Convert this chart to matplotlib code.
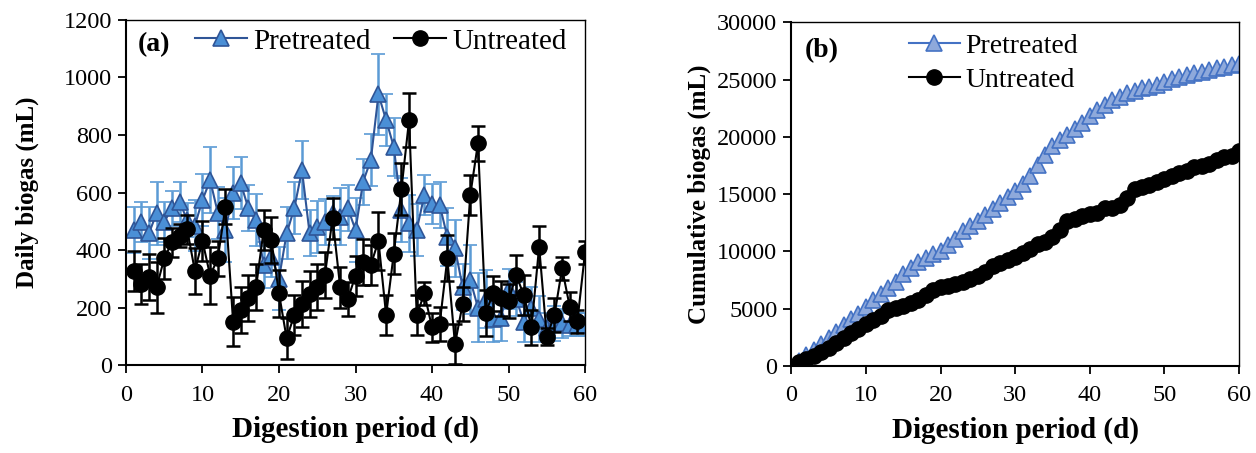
import numpy as np
import matplotlib
matplotlib.use("Agg")
import matplotlib.pyplot as plt

plt.rcParams['font.family'] = ['Liberation Serif', 'DejaVu Serif']

days = np.arange(1, 61)

# Daily biogas yield (mL)
pretreated = [470, 498, 458, 528, 498, 545, 568, 504, 485, 574,
              643, 530, 470, 597, 632, 545, 504, 348, 377, 301,
              458, 545, 678, 458, 481, 498, 528, 516, 545, 470,
              638, 713, 941, 852, 759, 539, 493, 470, 591, 560,
              557, 446, 406, 272, 296, 200, 230, 160, 165, 265,
              230, 150, 200, 160, 130, 145, 145, 140, 140, 140]
pretreated_err = [80, 70, 90, 110, 70, 60, 70, 60, 90, 90,
                  115, 90, 110, 90, 90, 80, 90, 80, 70, 110,
                  90, 90, 100, 80, 90, 80, 60, 100, 80, 110,
                  80, 90, 140, 90, 100, 110, 100, 90, 70, 70,
                  80, 100, 100, 80, 120, 120, 100, 80, 80, 70,
                  60, 70, 70, 80, 50, 60, 50, 40, 40, 40]

untreated = [328, 281, 305, 270, 371, 427, 450, 472, 328, 432,
             311, 371, 551, 151, 191, 232, 270, 470, 435, 249,
             93, 174, 212, 247, 270, 313, 510, 270, 230, 311,
             359, 348, 432, 174, 388, 611, 852, 174, 249, 131,
             143, 371, 73, 212, 591, 771, 182, 249, 232, 223,
             313, 243, 131, 412, 99, 174, 336, 203, 153, 392]
untreated_err = [70, 70, 80, 90, 70, 50, 40, 50, 80, 70,
                 100, 60, 60, 85, 80, 80, 80, 70, 80, 80,
                 70, 70, 80, 80, 80, 80, 70, 70, 60, 70,
                 80, 70, 100, 70, 70, 90, 95, 70, 40, 50,
                 60, 80, 70, 60, 70, 60, 80, 60, 60, 60,
                 70, 70, 60, 70, 30, 60, 40, 50, 40, 40]

# Cumulative biogas (mL)
pretreated_cum = np.cumsum(pretreated)
untreated_cum = np.cumsum(untreated)

fig = plt.figure(figsize=(12.56, 4.53), dpi=100)
ax1 = fig.add_axes([0.1003, 0.194, 0.3655, 0.762])
ax2 = fig.add_axes([0.630, 0.192, 0.3565, 0.759])

# (a) daily biogas
eb_p = ax1.errorbar(days, pretreated, yerr=pretreated_err, color='#2F5597', lw=1.5,
                    marker='^', ms=11, mfc='#4A8FD6', mec='#2F5597', mew=1.2,
                    ecolor='#5B9BD5', elinewidth=1.8, capsize=5, capthick=1.8,
                    zorder=2)
eb_u = ax1.errorbar(days, untreated, yerr=untreated_err, color='black', lw=1.5,
                    marker='o', ms=11, mfc='black', mec='black',
                    ecolor='black', elinewidth=1.8, capsize=5, capthick=1.8,
                    zorder=3)
ax1.set_xlim(0, 60)
ax1.set_ylim(0, 1200)
ax1.set_yticks(range(0, 1201, 200))
ax1.set_xticks(range(0, 61, 10))
ax1.set_xlabel('Digestion period (d)', fontsize=21, fontweight='bold', labelpad=7)
ax1.set_ylabel('Daily biogas (mL)', fontsize=18, fontweight='bold', labelpad=18)
ax1.text(0.025, 0.965, '(a)', transform=ax1.transAxes, fontsize=20,
         fontweight='bold', va='top')
ax1.legend([eb_p[0], eb_u[0]], ['Pretreated', 'Untreated'],
           loc='upper right', ncol=2, frameon=False, fontsize=21,
           handlelength=1.8, handletextpad=0.2, columnspacing=0.8,
           borderaxespad=0.0, bbox_to_anchor=(0.985, 1.01))

# (b) cumulative biogas
ax2.plot(days, pretreated_cum, color='#4472C4', lw=1.5, marker='^', ms=11,
         mfc='#8EA9DB', mec='#4472C4', mew=1.2, label='Pretreated', zorder=2)
ax2.plot(days, untreated_cum, color='black', lw=1.5, marker='o', ms=11,
         mfc='black', mec='black', label='Untreated', zorder=3)
ax2.set_xlim(0, 60)
ax2.set_ylim(0, 30000)
ax2.set_yticks(range(0, 30001, 5000))
ax2.set_xticks(range(0, 61, 10))
ax2.set_xlabel('Digestion period (d)', fontsize=21, fontweight='bold', labelpad=7)
ax2.set_ylabel('Cumulative biogas (mL)', fontsize=18, fontweight='bold', labelpad=4)
ax2.text(0.03, 0.955, '(b)', transform=ax2.transAxes, fontsize=20,
         fontweight='bold', va='top')
ax2.legend(loc='upper left', frameon=False, fontsize=20, handlelength=1.85,
           handletextpad=0.2, labelspacing=0.3, borderaxespad=0.0,
           bbox_to_anchor=(0.237, 1.0))

for ax in (ax1, ax2):
    ax.tick_params(direction='out', length=6, width=1.3, labelsize=17.5)
    ax.tick_params(axis='x', pad=8)
    ax.tick_params(axis='y', pad=4)
    for s in ax.spines.values():
        s.set_linewidth(1.5)
    for s in ('top', 'right'):
        ax.spines[s].set_linewidth(1.0)

fig.savefig('out.png', dpi=100)
